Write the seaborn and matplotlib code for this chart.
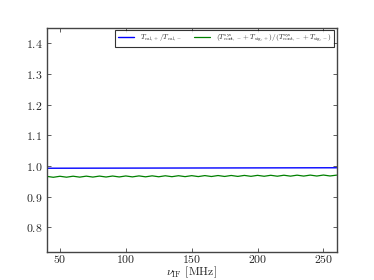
import numpy as np
import pandas as pd
import matplotlib
matplotlib.use("Agg")
import matplotlib.pyplot as plt
import seaborn as sns

# frecuencias IF (MHz) y cocientes
freq_cal = [40, 260]
ratio_cal = [0.9930, 0.9945]

freq_sig = [40, 45, 50, 55, 60, 65, 70, 75, 80, 85, 90, 95, 100, 105, 110,
            115, 120, 125, 130, 135, 140, 145, 150, 155, 160, 165, 170, 175,
            180, 185, 190, 195, 200, 205, 210, 215, 220, 225, 230, 235, 240,
            245, 250, 255, 260]
ratio_sig = [0.9665, 0.9635, 0.9668, 0.9638, 0.9670, 0.9640, 0.9672, 0.9642,
             0.9674, 0.9644, 0.9676, 0.9646, 0.9678, 0.9648, 0.9680, 0.9650,
             0.9682, 0.9652, 0.9684, 0.9654, 0.9686, 0.9656, 0.9688, 0.9658,
             0.9690, 0.9660, 0.9692, 0.9662, 0.9694, 0.9664, 0.9696, 0.9666,
             0.9698, 0.9668, 0.9700, 0.9670, 0.9702, 0.9672, 0.9704, 0.9674,
             0.9706, 0.9676, 0.9708, 0.9678, 0.9705]

label_cal = r"$T_{\mathrm{cal},+}/T_{\mathrm{cal},-}$"
label_sig = (r"$(T^{\mathrm{sys}}_{\mathrm{cont},-}+T_{\mathrm{sig},+})"
             r"/(T^{\mathrm{sys}}_{\mathrm{cont},-}+T_{\mathrm{sig},-})$")

sns.set_style("ticks")
plt.rcParams.update({
    "font.family": "serif",
    "font.serif": ["cmr10", "DejaVu Serif"],
    "mathtext.fontset": "cm",
    "axes.formatter.use_mathtext": True,
    "xtick.direction": "in",
    "ytick.direction": "in",
    "xtick.top": True,
    "ytick.right": True,
    "axes.edgecolor": "#444444",
    "axes.linewidth": 1.0,
})

fig = plt.figure(figsize=(3.74, 2.80), dpi=100)
ax = fig.add_axes([0.125, 0.1, 0.775, 0.8])

sns.lineplot(x=freq_cal, y=ratio_cal, color="#0000ff", lw=1.0, label=label_cal, ax=ax)
sns.lineplot(x=freq_sig, y=ratio_sig, color="#008000", lw=0.9, label=label_sig, ax=ax)

ax.set_xlim(40, 260)
ax.set_ylim(0.72, 1.45)
ax.set_xticks([50, 100, 150, 200, 250])
ax.set_yticks([0.8, 0.9, 1.0, 1.1, 1.2, 1.3, 1.4])
ax.tick_params(axis="x", labelsize=8.5, length=3, width=0.6, color="#444444", pad=1)
ax.tick_params(axis="y", labelsize=8.5, length=3, width=0.6, color="#444444", pad=3)
ax.set_xlabel(r"$\nu_{\mathrm{IF}}$ [MHz]", fontsize=8.5)
ax.xaxis.set_label_coords(0.5, -0.055)
ax.set_ylabel("")

leg = ax.legend(loc="upper right", ncol=2, fontsize=5.3, frameon=True, fancybox=False,
                handlelength=2.2, columnspacing=1.6, borderpad=0.35,
                borderaxespad=0.3, handletextpad=0.8)
leg.get_frame().set_edgecolor("black")
leg.get_frame().set_linewidth(0.8)

fig.savefig("out.png", dpi=100)
